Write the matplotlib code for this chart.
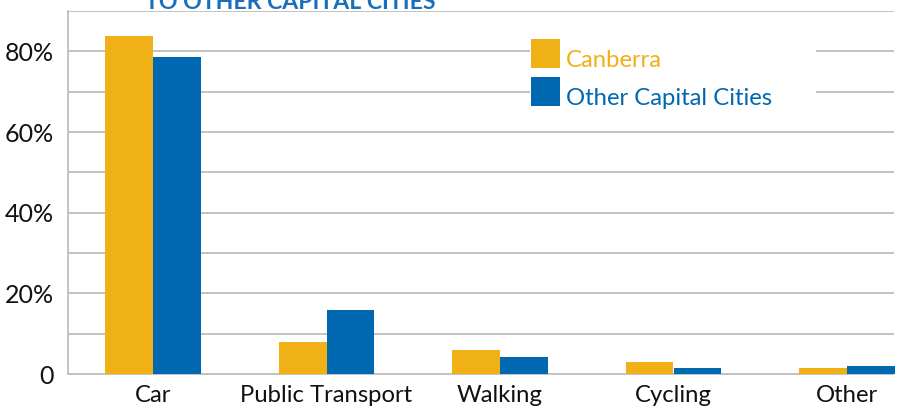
import matplotlib
matplotlib.use("Agg")
import matplotlib.pyplot as plt
import numpy as np
from matplotlib.patches import Rectangle

categories = ["Car", "Public Transport", "Walking", "Cycling", "Other"]
canberra = [83.9, 7.9, 5.9, 3.0, 1.5]
other_caps = [78.5, 15.8, 4.2, 1.5, 2.0]
series_names = ["Canberra", "Other Capital Cities"]
ytick_vals = [0, 20, 40, 60, 80]
ytick_labels = ["0", "20%", "40%", "60%", "80%"]

GOLD = "#EFB116"
BLUE = "#0068B1"
FONT = "Lato"

W, H = 905, 408
fig = plt.figure(figsize=(W / 100, H / 100), dpi=100)
spacing = 173.5
xmin = -85 / spacing
xmax = len(categories) - 0.5
left, bottom, top = 68, 374, 11
right = left + (xmax - xmin) * spacing
ax = fig.add_axes([left / W, 1 - bottom / H, (right - left) / W, (bottom - top) / H])

x = np.arange(len(categories))
bw = 0.275
ax.bar(x - bw / 2, canberra, bw, color=GOLD, zorder=3)
ax.bar(x + bw / 2, other_caps, bw, color=BLUE, zorder=3)

ax.set_xlim(xmin, xmax)
ax.set_ylim(0, 90)
grid_xmax = (893 - left) / (right - left)
for v in range(10, 91, 10):
    ax.axhline(v, xmin=0, xmax=grid_xmax, color="#BDBDBD", lw=1.3, zorder=1)

for s in ["top", "right"]:
    ax.spines[s].set_visible(False)
ax.spines["left"].set_color("#BDBDBD")
ax.spines["left"].set_linewidth(1.3)
ax.spines["bottom"].set_color("#BDBDBD")
ax.spines["bottom"].set_linewidth(1.3)
ax.spines["bottom"].set_bounds(xmin, xmin + grid_xmax * (xmax - xmin))

ax.set_yticks(ytick_vals)
ax.set_yticklabels(ytick_labels, fontsize=18, family=FONT, color="#111111")
ax.set_xticks(x)
ax.set_xticklabels(categories, fontsize=17.2, family=FONT, color="#111111")
ax.tick_params(axis="both", length=0)
ax.tick_params(axis="y", pad=10)
ax.tick_params(axis="x", pad=8)

def fx(px):
    return px / W

def fy(py):
    return 1 - py / H

fig.add_artist(Rectangle((fx(530), fy(116)), fx(816) - fx(530), (116 - 33) / H,
                         transform=fig.transFigure, facecolor="white",
                         edgecolor="none", zorder=5))
for i, (name, col) in enumerate(zip(series_names, [GOLD, BLUE])):
    ytop = 39 + i * 38
    fig.add_artist(Rectangle((fx(531), fy(ytop + 29)), 29 / W, 29 / H,
                             transform=fig.transFigure, facecolor=col,
                             edgecolor="none", zorder=6))
    fig.text(fx(566), fy(ytop + 28), name, ha="left", va="baseline",
             fontsize=17.2, family=FONT, color=col, zorder=7)

fig.text(fx(290), fy(9), "TO OTHER CAPITAL CITIES", ha="center", va="baseline",
         fontsize=16.6, fontweight="bold", family=FONT, color="#1A6FBA")

fig.savefig("out.png", dpi=100)
